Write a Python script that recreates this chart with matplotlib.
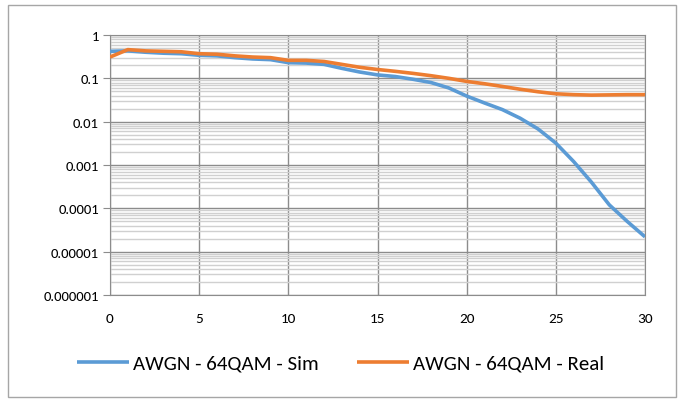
import numpy as np
import matplotlib.pyplot as plt
from matplotlib.ticker import LogLocator, FixedLocator, NullFormatter
from matplotlib import font_manager

snr = list(range(0, 31))
ber_sim = [0.42, 0.43, 0.40, 0.38, 0.37, 0.34, 0.33, 0.30, 0.28, 0.27,
           0.23, 0.225, 0.21, 0.17, 0.14, 0.12, 0.11, 0.095, 0.08, 0.06,
           0.039, 0.027, 0.019, 0.012, 0.0068, 0.0032, 0.0012, 0.0004,
           0.00012, 0.00005, 0.000022]
ber_real = [0.31, 0.46, 0.43, 0.42, 0.41, 0.37, 0.36, 0.33, 0.31, 0.30,
            0.26, 0.26, 0.245, 0.21, 0.18, 0.16, 0.145, 0.13, 0.115, 0.10,
            0.085, 0.075, 0.065, 0.056, 0.049, 0.044, 0.042, 0.041,
            0.0415, 0.042, 0.042]
ytick_vals = [1e-6, 1e-5, 1e-4, 1e-3, 1e-2, 1e-1, 1]
ytick_labels = ['0.000001', '0.00001', '0.0001', '0.001', '0.01', '0.1', '1']
labels = ['AWGN - 64QAM - Sim', 'AWGN - 64QAM - Real']

# Calibri-like look: pick the narrowest family that is installed
names = {f.name for f in font_manager.fontManager.ttflist}
fam = 'DejaVu Sans'
for cand in ['Carlito', 'Liberation Sans Narrow', 'Roboto Condensed',
             'Open Sans Condensed', 'Roboto', 'Liberation Sans']:
    if cand in names:
        fam = cand
        break
plt.rcParams['font.family'] = [fam, 'DejaVu Sans']

fig = plt.figure(figsize=(6.81, 4.02), dpi=100)
ax = fig.add_axes([110 / 681, 1 - 296 / 402, 535 / 681, 260 / 402])

# outer chart border
fig.patches.append(plt.Rectangle((8 / 681, 4 / 402), 668 / 681, 392 / 402,
                                 transform=fig.transFigure, fill=False,
                                 edgecolor='#a6a6a6', linewidth=1))

ax.plot(snr, ber_sim, color='#5b9bd5', linewidth=2.6, solid_joinstyle='round',
        solid_capstyle='butt', label=labels[0], zorder=3)
ax.plot(snr, ber_real, color='#ed7d31', linewidth=2.6, solid_joinstyle='round',
        solid_capstyle='butt', label=labels[1], zorder=4)

ax.set_yscale('log')
ax.set_ylim(1e-6, 1)
ax.set_xlim(0, 30)
ax.set_xticks(range(0, 31, 5))
ax.yaxis.set_major_locator(FixedLocator(ytick_vals))
ax.set_yticklabels(ytick_labels)
ax.yaxis.set_minor_locator(LogLocator(base=10, subs=np.arange(2, 10)))
ax.yaxis.set_minor_formatter(NullFormatter())

ax.grid(which='major', axis='both', color='#8c8c8c', linewidth=1)
ax.grid(which='minor', axis='y', color='#d0d0d0', linewidth=1)
ax.set_axisbelow(True)

for s in ax.spines.values():
    s.set_color('#8c8c8c')

ax.tick_params(axis='y', which='major', length=5, color='#8c8c8c',
               labelsize=10.5, pad=3)
ax.tick_params(axis='y', which='minor', length=0)
ax.tick_params(axis='x', length=0, labelsize=11, pad=12)

fig.legend(loc='center', bbox_to_anchor=(0.5, 1 - 364 / 402), ncol=2,
           frameon=False, fontsize=15, handlelength=2.5, columnspacing=1.85,
           handletextpad=0.2)

fig.savefig('out.png', dpi=100)
